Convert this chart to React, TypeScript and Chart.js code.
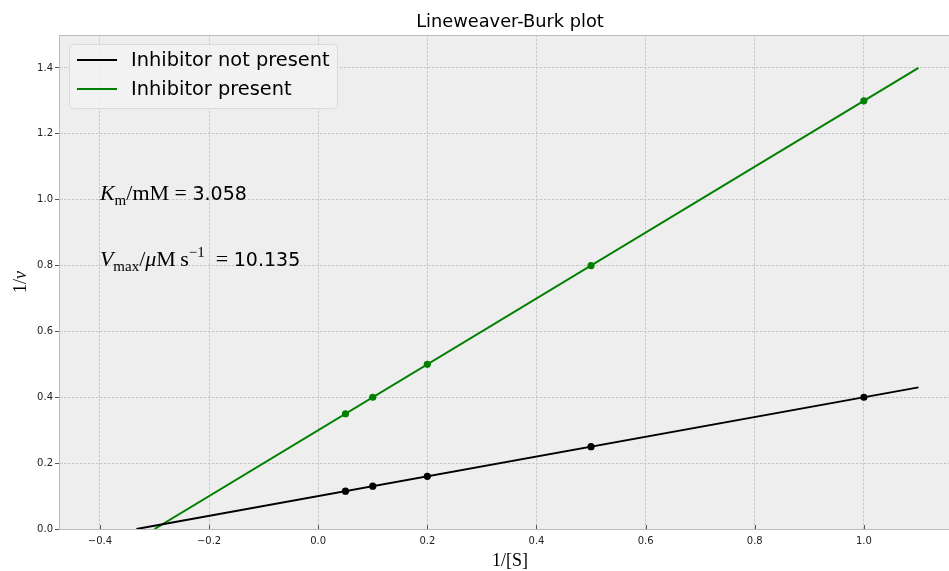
import React, { useEffect, useRef } from "react";
import { Chart, registerables } from "chart.js";

Chart.register(...registerables);

const titleText = "Lineweaver-Burk plot";
const seriesNames = ["Inhibitor not present", "Inhibitor present"];
const seriesColors = ["#000000", "#008000"];
const xPoints = [0.05, 0.1, 0.2, 0.5, 1.0];
const noInhibitor = [0.115, 0.13, 0.16, 0.25, 0.4];
const withInhibitor = [0.35, 0.4, 0.5, 0.8, 1.3];
const fitXNo = [-0.333, 1.1];
const fitYNo = [0, 0.43];
const fitXWith = [-0.3, 1.1];
const fitYWith = [0, 1.4];
const xTicks = [-0.4, -0.2, 0.0, 0.2, 0.4, 0.6, 0.8, 1.0];
const yTicks = [0.0, 0.2, 0.4, 0.6, 0.8, 1.0, 1.2, 1.4];
const kmValue = "3.058";
const vmaxValue = "10.135";
const annotX = -0.4;
const kmY = 1.0;
const vmaxY = 0.8;

const LSERIF = '"Liberation Serif", "DejaVu Serif", serif';
const SANS = '"DejaVu Sans", sans-serif';

type Run = { t: string; f: string; dy?: number };

function drawRuns(ctx: CanvasRenderingContext2D, x: number, y: number, runs: Run[]) {
  let cx = x;
  for (const r of runs) {
    ctx.font = r.f;
    ctx.fillText(r.t, cx, y + (r.dy || 0));
    cx += ctx.measureText(r.t).width;
  }
  return cx;
}

const decorPlugin = {
  id: "decor",
  beforeDraw(chart: any) {
    const { ctx, chartArea: a } = chart;
    ctx.save();
    ctx.fillStyle = "#eeeeee";
    ctx.fillRect(a.left, a.top, a.right - a.left, a.bottom - a.top);
    ctx.restore();
  },
  afterDraw(chart: any) {
    const { ctx, chartArea: a } = chart;
    const xs = chart.scales.x;
    const ys = chart.scales.y;
    ctx.save();
    // top spine
    ctx.strokeStyle = "#bcbcbc";
    ctx.lineWidth = 1;
    ctx.beginPath();
    ctx.moveTo(a.left, a.top + 0.5);
    ctx.lineTo(a.right, a.top + 0.5);
    ctx.stroke();

    // x tick marks (inside, above the bottom spine)
    ctx.strokeStyle = "#555";
    ctx.lineWidth = 1;
    for (const v of xTicks) {
      const px = Math.round(xs.getPixelForValue(v)) + 0.5;
      ctx.beginPath();
      ctx.moveTo(px, a.bottom);
      ctx.lineTo(px, a.bottom - 4);
      ctx.stroke();
    }

    // title
    ctx.fillStyle = "#000";
    ctx.textBaseline = "alphabetic";
    ctx.textAlign = "center";
    ctx.font = `17.8px ${SANS}`;
    ctx.fillText(titleText, 510, 27);

    // x label
    ctx.textAlign = "left";
    const xl: Run[] = [{ t: "1/[S]", f: `18px ${LSERIF}` }];
    ctx.font = xl[0].f;
    const wx = ctx.measureText(xl[0].t).width;
    drawRuns(ctx, 510 - wx / 2, 566, xl);

    // y label rotated
    ctx.save();
    ctx.translate(26, 282);
    ctx.rotate(-Math.PI / 2);
    const yl: Run[] = [
      { t: "1/", f: `18px ${LSERIF}` },
      { t: "v", f: `italic 18px ${LSERIF}` },
    ];
    let wy = 0;
    for (const r of yl) { ctx.font = r.f; wy += ctx.measureText(r.t).width; }
    drawRuns(ctx, -wy / 2, 0, yl);
    ctx.restore();

    // annotations
    const ax = xs.getPixelForValue(annotX);
    ctx.fillStyle = "#000";
    drawRuns(ctx, ax, ys.getPixelForValue(kmY), [
      { t: "K", f: `italic 22px ${LSERIF}` },
      { t: "m", f: `15px ${LSERIF}`, dy: 5 },
      { t: "/mM", f: `22px ${LSERIF}` },
      { t: " = ", f: `22px ${LSERIF}` },
      { t: kmValue, f: `19px ${SANS}` },
    ]);
    drawRuns(ctx, ax, ys.getPixelForValue(vmaxY), [
      { t: "V", f: `italic 22px ${LSERIF}` },
      { t: "max", f: `15px ${LSERIF}`, dy: 5 },
      { t: "/", f: `22px ${LSERIF}` },
      { t: "μ", f: `italic 22px ${LSERIF}` },
      { t: "M\u2009s", f: `22px ${LSERIF}` },
      { t: "−1", f: `15px ${LSERIF}`, dy: -9 },
      { t: "  = ", f: `22px ${LSERIF}` },
      { t: vmaxValue, f: `19px ${SANS}` },
    ]);

    // legend
    const lx = 69, ly = 44, lw = 268, lh = 64;
    ctx.beginPath();
    (ctx as any).roundRect(lx + 0.5, ly + 0.5, lw, lh, 4);
    ctx.fillStyle = "rgba(242,242,242,0.85)";
    ctx.fill();
    ctx.strokeStyle = "#dadada";
    ctx.lineWidth = 1;
    ctx.stroke();
    ctx.font = `19.4px ${SANS}`;
    ctx.textBaseline = "middle";
    seriesNames.forEach((name, i) => {
      const yy = ly + 16 + i * 29;
      ctx.strokeStyle = seriesColors[i];
      ctx.lineWidth = 2;
      ctx.beginPath();
      ctx.moveTo(77, yy);
      ctx.lineTo(117, yy);
      ctx.stroke();
      ctx.fillStyle = "#000";
      ctx.fillText(name, 131, yy + 1);
    });
    ctx.restore();
  },
};

const fmt = (v: number) => v.toFixed(1).replace("-", "\u2212");

const gridOpts = {
  color: "#c6c6c6",
  lineWidth: 1,
  tickLength: 4,
  tickColor: "#555",
} as any;

const borderOpts = { display: true, color: "#bcbcbc", width: 1, dash: [2.5, 1.5] } as any;

export default function App() {
  const ref = useRef<HTMLCanvasElement>(null);
  useEffect(() => {
    document.body.style.margin = "0";
    const toPts = (xs: number[], ys: number[]) => xs.map((x, i) => ({ x, y: ys[i] }));
    const chart = new Chart(ref.current!, {
      type: "scatter",
      data: {
        datasets: [
          {
            label: seriesNames[0],
            data: toPts(fitXNo, fitYNo),
            showLine: true,
            borderColor: seriesColors[0],
            borderWidth: 2,
            pointRadius: 0,
          },
          {
            label: seriesNames[1],
            data: toPts(fitXWith, fitYWith),
            showLine: true,
            borderColor: seriesColors[1],
            borderWidth: 2,
            pointRadius: 0,
          },
          {
            label: seriesNames[0] + " data",
            data: toPts(xPoints, noInhibitor),
            backgroundColor: seriesColors[0],
            borderColor: seriesColors[0],
            pointRadius: 3.6,
            borderWidth: 0,
          },
          {
            label: seriesNames[1] + " data",
            data: toPts(xPoints, withInhibitor),
            backgroundColor: seriesColors[1],
            borderColor: seriesColors[1],
            pointRadius: 3.6,
            borderWidth: 0,
          },
        ],
      },
      options: {
        responsive: false,
        animation: false,
        layout: { autoPadding: false, padding: { top: 35, right: 0, left: 0, bottom: 0 } },
        plugins: { legend: { display: false }, tooltip: { enabled: false } },
        scales: {
          x: {
            type: "linear",
            min: -0.475,
            max: 1.156,
            afterBuildTicks: (s: any) => { s.ticks = xTicks.map((v) => ({ value: v })); },
            afterFit: (s: any) => { s.height = 42; s.paddingLeft = 0; s.paddingRight = 0; },
            ticks: {
              callback: (v: any) => fmt(Number(v)),
              color: "#222",
              font: { family: "DejaVu Sans", size: 10 },
              padding: 2,
              maxRotation: 0,
            },
            grid: { ...gridOpts, tickColor: "rgba(0,0,0,0)" },
            border: borderOpts,
          },
          y: {
            type: "linear",
            min: 0,
            max: 1.5,
            afterBuildTicks: (s: any) => { s.ticks = yTicks.map((v) => ({ value: v })); },
            afterFit: (s: any) => { s.width = 59; s.paddingTop = 0; s.paddingBottom = 0; },
            ticks: {
              callback: (v: any) => fmt(Number(v)),
              color: "#222",
              font: { family: "DejaVu Sans", size: 10 },
              padding: 2,
            },
            grid: gridOpts,
            border: borderOpts,
          },
        },
      },
      plugins: [decorPlugin],
    });
    return () => chart.destroy();
  }, []);
  return <canvas ref={ref} width={949} height={571} style={{ display: "block" }} />;
}
